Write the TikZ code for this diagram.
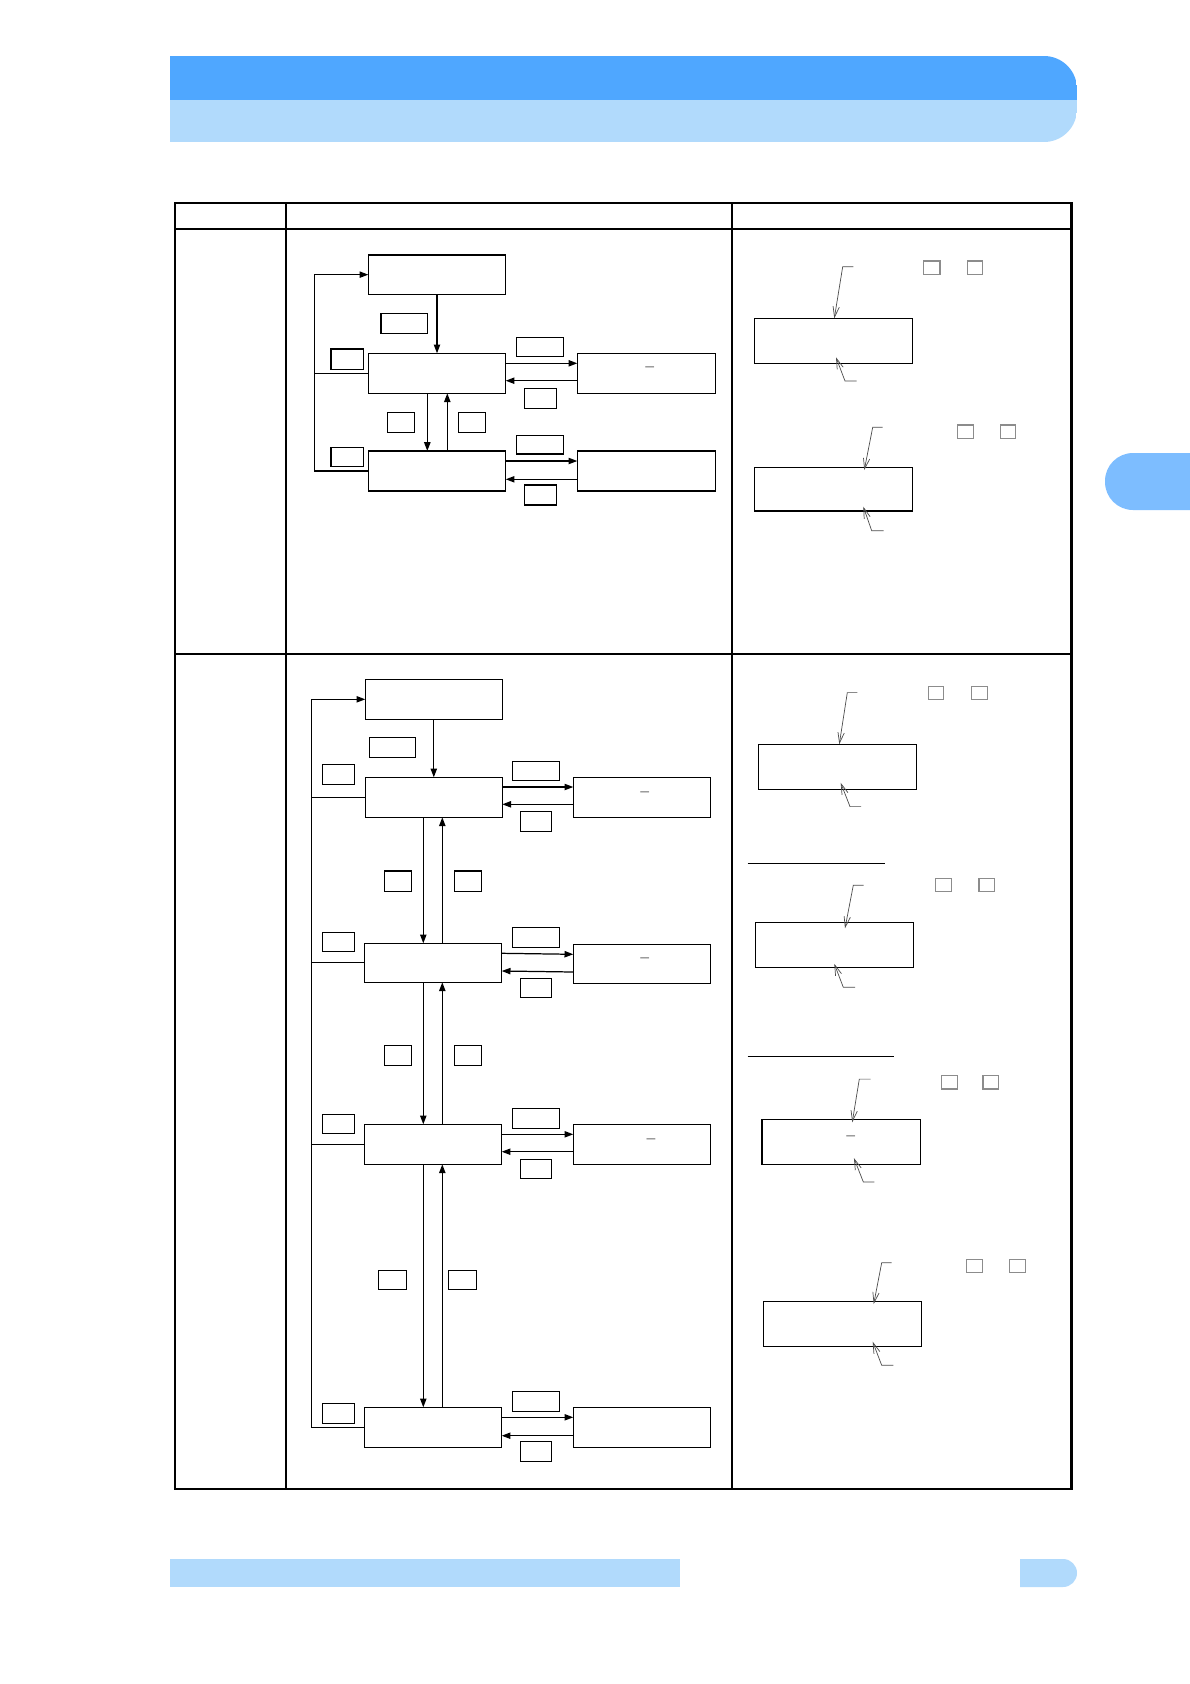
\documentclass[tikz,border=0pt]{standalone}
\usetikzlibrary{arrows.meta,calc}
\definecolor{hdark}{HTML}{4FA7FF}
\definecolor{hlight}{HTML}{B1DAFC}
\definecolor{htab}{HTML}{7DBDFF}
% \mkbox[style]{name}{x1}{y1}{x2}{y2}  (pixel coordinates, y downwards)
\newcommand\mkbox[6][]{\node[flowbox,#1,minimum width={(#5-#3)*0.02cm},minimum height={(#6-#4)*0.02cm}] (#2) at ({(#3+#5)/2},{(#4+#6)/2}) {};}
\begin{document}
\begin{tikzpicture}[x={(0.02cm,0)},y={(0,-0.02cm)},
 flowbox/.style={draw,rectangle,inner sep=0pt,outer sep=0pt,line width=0.7pt},
 tagbox/.style={line width=0.65pt},
 keybox/.style={draw=black!45,line width=0.6pt},
 arr/.style={line width=0.7pt,-{Triangle[length=5pt,width=3.6pt]}},
 plain/.style={line width=0.7pt},
 lead/.style={line width=0.4pt,draw=black!70,-{Straight Barb[length=6pt,width=3.6pt]}},
 gridline/.style={line width=1.2pt},
 sepline/.style={line width=0.6pt},
 dashtxt/.style={inner sep=0pt,font=\fontsize{8.5}{9}\selectfont\bfseries}]
\useasboundingbox (0,0) rectangle (1190,1684);
\fill[white] (0,0) rectangle (1190,1684);
% header band
\begin{scope}
\clip (170,0) rectangle (1190,300);
\clip[rounded corners=0.66cm] (100,56) rectangle (1077,142);
\fill[hdark] (170,56) rectangle (1077,100);
\fill[hlight] (170,100) rectangle (1077,142);
\end{scope}
% side tab
\begin{scope}
\clip (0,0) rectangle (1190,1684);
\fill[htab,rounded corners=0.56cm] (1105,453) rectangle (1240,510);
\end{scope}
% footer
\fill[hlight] (170,1559) rectangle (680,1587);
\begin{scope}
\clip (1020,1500) rectangle (1190,1600);
\fill[hlight,rounded corners=0.28cm] (985,1559) rectangle (1077,1587);
\end{scope}
% table
\draw[gridline] (175,202.7) rectangle (1071.5,1488.6);
\draw[gridline] (175,229) -- (1071.5,229);
\draw[gridline] (175,654) -- (1071.5,654);
\draw[gridline] (286,202.7) -- (286,1488.6);
\draw[gridline] (732,202.7) -- (732,1488.6);

% ---------------- row 1 flowchart ----------------
\mkbox{A0}{368.3}{255}{505.7}{294.3}
\mkbox{A1}{368.3}{353.3}{505.7}{393.3}
\mkbox{A1R}{577.3}{353.3}{715.3}{393.3}
\mkbox{A2}{368.3}{451}{505.7}{491}
\mkbox{A2R}{577.3}{451}{715.3}{491}
\mkbox[tagbox]{as}{381}{313.3}{427.7}{333.3}
\mkbox[tagbox]{a1L}{331}{349}{363.3}{369.3}
\mkbox[tagbox]{a1up}{516.3}{337.3}{563.3}{356.3}
\mkbox[tagbox]{a1dn}{524.3}{388.3}{556.3}{408.3}
\mkbox[tagbox]{a12L}{387.3}{412.3}{414.3}{432.3}
\mkbox[tagbox]{a12R}{458.3}{412.3}{485.3}{432.3}
\mkbox[tagbox]{a2L}{331}{447.3}{363.3}{466.3}
\mkbox[tagbox]{a2up}{516.3}{435.3}{563.3}{454}
\mkbox[tagbox]{a2dn}{524.3}{485}{556.3}{505}
\node[dashtxt] (A1Rd) at (649.7,369.5) {–};

\draw[arr] (A0.south) -- (A1.north);
\draw[arr] ($(A1.east)+(0,-10)$) -- ($(A1R.west)+(0,-10)$);
\draw[arr] ($(A1R.west)+(0,7.4)$) -- ($(A1.east)+(0,7.4)$);
\draw[arr] ($(A1.south)+(-9.7,0)$) -- ($(A2.north)+(-9.7,0)$);
\draw[arr] ($(A2.north)+(10.3,0)$) -- ($(A1.south)+(10.3,0)$);
\draw[arr] ($(A2.east)+(0,-10)$) -- ($(A2R.west)+(0,-10)$);
\draw[arr] ($(A2R.west)+(0,8.3)$) -- ($(A2.east)+(0,8.3)$);
\draw[arr] (A2.west) -- ++(-54,0) |- (A0.west);
\draw[plain] (A1.west) -- ++(-54,0);

% ---------------- row 1 right column ----------------
\mkbox{D1}{754.3}{318.3}{912.3}{363.3}
\mkbox[keybox]{k1a}{923.3}{261}{940}{274.3}
\mkbox[keybox]{k1b}{967.3}{261}{982.7}{274.3}
\coordinate (d1t) at (853.3,266.7);
\coordinate (d1b) at (856.7,381);
\draw[lead] (d1t) -- (842.7,266.7) -- ($(D1.north)+(1,0)$);
\draw[lead] (d1b) -- (845,381) -- ($(D1.south)+(2.7,-6)$);

\mkbox{D2}{754.3}{467.3}{912.3}{511}
\mkbox[keybox]{k2a}{957.3}{425}{973.3}{438.3}
\mkbox[keybox]{k2b}{1000.3}{425}{1015.7}{438.3}
\coordinate (d2t) at (882.7,427.3);
\coordinate (d2b) at (883.7,530.7);
\draw[lead] (d2t) -- (872.7,427.3) -- ($(D2.north)+(31,2.7)$);
\draw[lead] (d2b) -- (871.7,530.7) -- ($(D2.south)+(30,-4.3)$);

% ---------------- row 2 flowchart ----------------
\mkbox{B0}{365.3}{679.3}{502.3}{719.3}
\mkbox{B1}{365.3}{777.3}{502.3}{817.3}
\mkbox{B1R}{573.3}{777.3}{710.3}{817.3}
\mkbox{B2}{364.3}{943.3}{501.7}{982.3}
\mkbox{B2R}{573.3}{944.3}{710.3}{983.3}
\mkbox{B3}{364.3}{1124.3}{501.7}{1164.3}
\mkbox{B3R}{573.3}{1124.3}{710.3}{1164.3}
\mkbox{B4}{364.3}{1407.3}{501.7}{1447.3}
\mkbox{B4R}{573.3}{1407.3}{710.3}{1447.3}
\mkbox[tagbox]{bs}{369.3}{737.3}{415.3}{757.3}
\mkbox[tagbox]{b1L}{322.3}{764.3}{354.3}{784.3}
\mkbox[tagbox]{b1up}{512.3}{761.3}{559.3}{780.3}
\mkbox[tagbox]{b1dn}{520.3}{811.3}{551.3}{831.3}
\mkbox[tagbox]{b12L}{384.3}{871}{411.3}{891.3}
\mkbox[tagbox]{b12R}{454.3}{871}{481.3}{891.3}
\mkbox[tagbox]{b2L}{322.3}{932.3}{354.3}{951.3}
\mkbox[tagbox]{b2up}{512.3}{927.3}{559.3}{947.3}
\mkbox[tagbox]{b2dn}{520.3}{978.3}{551.3}{997.3}
\mkbox[tagbox]{b23L}{384.3}{1045.5}{411.3}{1065.5}
\mkbox[tagbox]{b23R}{454.3}{1045.5}{481.3}{1065.5}
\mkbox[tagbox]{b3L}{322.3}{1114.3}{354.3}{1133.3}
\mkbox[tagbox]{b3up}{512.3}{1108.3}{559.3}{1128.3}
\mkbox[tagbox]{b3dn}{520.3}{1159.3}{551.3}{1178.3}
\mkbox[tagbox]{b34L}{378.3}{1270.3}{406.3}{1289.3}
\mkbox[tagbox]{b34R}{448.3}{1270.3}{476.3}{1289.3}
\mkbox[tagbox]{b4L}{322.3}{1403.3}{354.3}{1423.3}
\mkbox[tagbox]{b4up}{512.3}{1391.3}{559.3}{1411.3}
\mkbox[tagbox]{b4dn}{520.3}{1441.3}{551.3}{1461.3}
\node[dashtxt] (B1Rd) at (644.8,793.8) {–};
\node[dashtxt] (B2Rd) at (644.8,959.8) {–};
\node[dashtxt] (B3Rd) at (651,1140.8) {–};

\draw[arr] (B0.south) -- (B1.north);
\draw[arr] ($(B1.east)+(0,-10.3)$) -- ($(B1R.west)+(0,-10.3)$);
\draw[arr] ($(B1R.west)+(0,7)$) -- ($(B1.east)+(0,7)$);
\draw[arr] ($(B1.south)+(-10.5,0)$) coordinate (v1) -- (v1 |- B2.north);
\draw[arr] ($(B2.north)+(9.3,0)$) coordinate (v2) -- (v2 |- B1.south);
\draw[arr] ($(B2.east)+(0,-9.5)$) -- ($(B2R.west)+(0,-9.5)$);
\draw[arr] ($(B2R.west)+(0,8.2)$) -- ($(B2.east)+(0,8.2)$);
\draw[arr] ($(B2.south)+(-9.7,0)$) coordinate (v3) -- (v3 |- B3.north);
\draw[arr] ($(B3.north)+(9.3,0)$) coordinate (v4) -- (v4 |- B2.south);
\draw[arr] ($(B3.east)+(0,-10)$) -- ($(B3R.west)+(0,-10)$);
\draw[arr] ($(B3R.west)+(0,7.4)$) -- ($(B3.east)+(0,7.4)$);
\draw[arr] ($(B3.south)+(-9.7,0)$) coordinate (v5) -- (v5 |- B4.north);
\draw[arr] ($(B4.north)+(9.3,0)$) coordinate (v6) -- (v6 |- B3.south);
\draw[arr] ($(B4.east)+(0,-10)$) -- ($(B4R.west)+(0,-10)$);
\draw[arr] ($(B4R.west)+(0,8.4)$) -- ($(B4.east)+(0,8.4)$);
\draw[arr] (B4.west) -- ++(-53,0) |- (B0.west);
\draw[plain] (B1.west) -- ++(-54,0);
\draw[plain] (B2.west) -- ++(-53,0);
\draw[plain] (B3.west) -- ++(-53,0);

% ---------------- row 2 right column ----------------
\mkbox{E1}{758.3}{744.2}{916.3}{789.4}
\mkbox[keybox]{m1a}{928.3}{686.3}{943.7}{699.6}
\mkbox[keybox]{m1b}{971.3}{686.3}{987.3}{699.6}
\coordinate (e1t) at (857.3,692.6);
\coordinate (e1b) at (861,806.6);
\draw[lead] (e1t) -- (847.3,692.6) -- ($(E1.north)+(2,0)$);
\draw[lead] (e1b) -- (850,806.6) -- ($(E1.south)+(3.4,-6.6)$);

\coordinate (s1a) at (747.7,863.8);
\coordinate (s1b) at (885,863.8);
\draw[sepline] (s1a) -- (s1b);

\mkbox{E2}{755.3}{922.4}{913.7}{967.6}
\mkbox[keybox]{m2a}{935.7}{878.2}{951.7}{891.8}
\mkbox[keybox]{m2b}{979}{878.2}{994.7}{891.8}
\coordinate (e2t) at (863.7,885.2);
\coordinate (e2b) at (855,987.3);
\draw[lead] (e2t) -- (853.3,885.2) -- ($(E2.north)+(10.5,5.9)$);
\draw[lead] (e2b) -- (843.3,987.3) -- ($(E2.south)+(-0.2,-3.8)$);

\coordinate (s2a) at (747.7,1056.3);
\coordinate (s2b) at (894,1056.3);
\draw[sepline] (s2a) -- (s2b);

\mkbox{E3}{762}{1119.5}{920.3}{1164.4}
\node[dashtxt] (E3d) at (850.8,1137.8) {–};
\mkbox[keybox]{m3a}{941.7}{1075.6}{957.7}{1089}
\mkbox[keybox]{m3b}{983}{1075.6}{998.3}{1089}
\coordinate (e3t) at (870.7,1079.1);
\coordinate (e3b) at (874.3,1181.9);
\draw[lead] (e3t) -- (859.3,1079.1) -- ($(E3.north)+(11.1,2.8)$);
\draw[lead] (e3b) -- (863.3,1181.9) -- ($(E3.south)+(12.8,-6.3)$);

\mkbox{E4}{763.3}{1301.3}{921.3}{1346.3}
\mkbox[keybox]{m4a}{966.3}{1259.3}{982.7}{1272.3}
\mkbox[keybox]{m4b}{1009.3}{1259.3}{1025.3}{1272.3}
\coordinate (e4t) at (891.7,1262.7);
\coordinate (e4b) at (893.3,1365.3);
\draw[lead] (e4t) -- (881.7,1262.7) -- ($(E4.north)+(31.4,2.7)$);
\draw[lead] (e4b) -- (881.7,1365.3) -- ($(E4.south)+(30.4,-4.6)$);
\end{tikzpicture}
\end{document}
